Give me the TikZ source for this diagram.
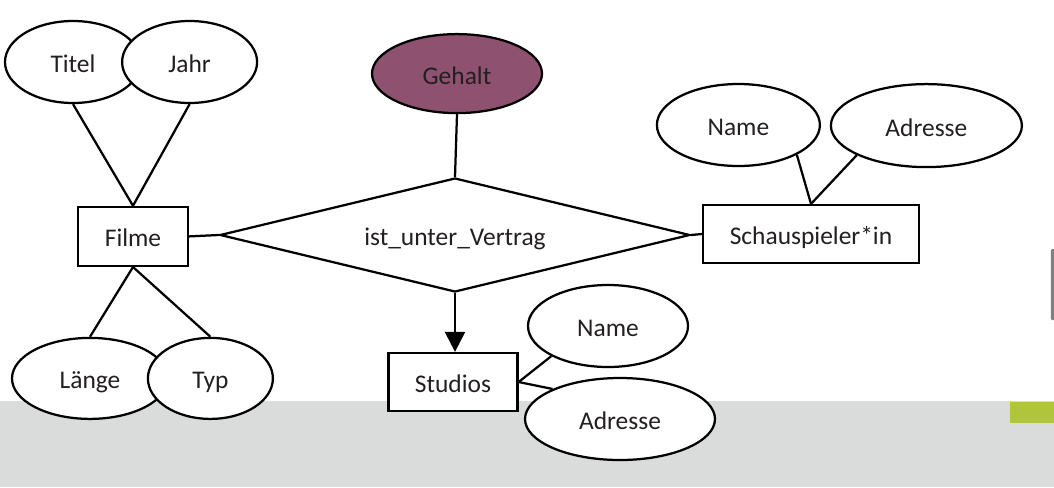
\documentclass[tikz,border=0pt]{standalone}
\usepackage{fontspec}
\setmainfont{Carlito}
\usetikzlibrary{shapes.geometric,arrows.meta}

\definecolor{gehaltrot}{RGB}{142,82,112}
\definecolor{bandgrau}{RGB}{218,219,219}
\definecolor{akzentgruen}{RGB}{176,196,60}
\definecolor{textgrau}{RGB}{35,31,32}

\tikzset{
  entity/.style={draw, rectangle, fill=white, inner sep=0pt, text height=0.57cm, text depth=0.05cm},
  attr/.style={draw, ellipse, fill=white, inner sep=0pt, text height=0.57cm, text depth=0.05cm},
  relation/.style={draw, diamond, fill=white, inner sep=0pt, aspect=4.1, text height=0.57cm, text depth=0.05cm},
}

\begin{document}
\begin{tikzpicture}[line width=1.6pt, text=textgrau,
    font=\fontsize{18.1}{20}\selectfont]
  \useasboundingbox (0,0) rectangle (26.35,-12.175);
  % slide background
  \fill[bandgrau] (0,-10.025) rectangle (26.35,-12.175);
  \fill[akzentgruen] (25.25,-10.04) rectangle (26.35,-10.575);
  \fill[gray, rounded corners=1pt, line width=0pt] (26.27,-6.225) rectangle (26.45,-8.0);
  % relationship
  \node[relation, minimum width=11.75cm, minimum height=2.85cm] (vertrag) at (11.375,-5.875) {ist\_unter\_Vertrag};
  \node[attr, fill=gehaltrot, minimum width=4.25cm, minimum height=1.975cm] (gehalt) at (11.425,-1.84) {Gehalt};
  \draw (gehalt.south) -- (vertrag.north);
  % Filme
  \node[entity, minimum width=2.75cm, minimum height=1.475cm] (filme) at (3.325,-5.91) {Filme};
  \node[attr, minimum width=3.4cm, minimum height=2.05cm] (titel) at (1.825,-1.55) {Titel};
  \node[attr, minimum width=3.375cm, minimum height=2.05cm] (jahr) at (4.74,-1.55) {Jahr};
  \node[attr, minimum width=3.9cm, minimum height=2.025cm] (laenge) at (2.25,-9.46) {Länge};
  \node[attr, minimum width=3.125cm, minimum height=2.025cm] (typ) at (5.26,-9.46) {Typ};
  \draw (titel.south) -- (filme.north);
  \draw (jahr.south) -- (filme.north);
  \draw (laenge.north) -- (filme.south);
  \draw (typ.north) -- (filme.south);
  \draw (filme.east) -- (vertrag.west);
  % Schauspieler*in
  \node[entity, minimum width=5.4cm, minimum height=1.45cm] (schauspieler) at (20.275,-5.85) {Schauspieler*in};
  \node[attr, minimum width=4.075cm, minimum height=2.05cm] (sName) at (18.46,-3.125) {Name};
  \node[attr, minimum width=4.775cm, minimum height=2.075cm] (sAdresse) at (23.16,-3.14) {Adresse};
  \draw (sName.-27) -- (schauspieler.north);
  \draw (sAdresse.203) -- (schauspieler.north);
  \draw (vertrag.east) -- (schauspieler.west);
  % Studios
  \node[entity, minimum width=3.225cm, minimum height=1.45cm] (studios) at (11.325,-9.55) {Studios};
  \node[attr, minimum width=4.0cm, minimum height=2.05cm] (stName) at (15.2,-8.15) {Name};
  \node[attr, minimum width=4.75cm, minimum height=2.05cm] (stAdresse) at (15.5,-10.475) {Adresse};
  \draw (studios.east) -- (stName.208);
  \draw (studios.east) -- (stAdresse.156);
  \draw[-{Triangle[width=0.5cm, length=0.5cm]}] (vertrag.south) -- (vertrag.south |- studios.north);
\end{tikzpicture}
\end{document}
